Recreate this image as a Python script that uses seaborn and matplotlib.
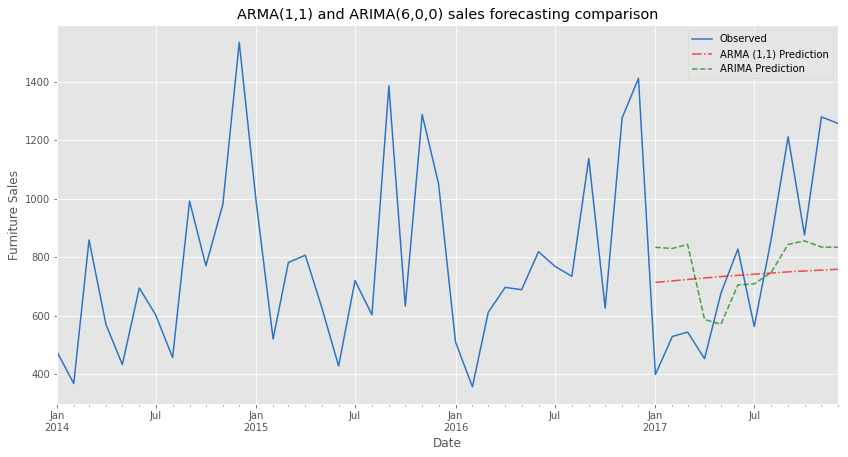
import pandas as pd
import numpy as np
import seaborn as sns
import matplotlib.pyplot as plt
import matplotlib.dates as mdates

# monthly furniture sales, Jan 2014 - Dec 2017
dates = pd.date_range('2014-01-01', '2017-12-01', freq='MS')
observed = [478, 368, 859, 570, 433, 695, 603, 457, 992, 771, 981, 1535,
            990, 521, 782, 807, 629, 428, 720, 603, 1386, 633, 1288, 1051,
            510, 357, 612, 697, 689, 819, 769, 735, 1138, 626, 1276, 1412,
            399, 529, 544, 453, 677, 828, 563, 862, 1212, 876, 1280, 1258]

# forecasts for 2017
pred_dates = pd.date_range('2017-01-01', '2017-12-01', freq='MS')
arma_pred = [714, 719, 724, 729, 734, 738, 742, 746, 750, 753, 756, 759]
arima_pred = [834, 830, 844, 587, 571, 705, 709, 748, 844, 856, 835, 834]

plt.style.use('ggplot')
fig, ax = plt.subplots(figsize=(848 / 72, 457 / 72), dpi=72)
fig.subplots_adjust(left=0.067, right=0.988, top=0.945, bottom=0.116)

df_obs = pd.DataFrame({'Date': dates, 'Sales': observed})
df_pred = pd.DataFrame({'Date': pred_dates, 'ARMA': arma_pred, 'ARIMA': arima_pred})

sns.lineplot(data=df_obs, x='Date', y='Sales', ax=ax, color='#2a74c6',
             linewidth=1.5, label='Observed')
sns.lineplot(data=df_pred, x='Date', y='ARMA', ax=ax, color='r', alpha=0.7,
             linestyle='-.', linewidth=1.5, label='ARMA (1,1) Prediction')
sns.lineplot(data=df_pred, x='Date', y='ARIMA', ax=ax, color='g', alpha=0.7,
             linestyle='--', linewidth=1.5, label='ARIMA Prediction')

ax.set_xlim(dates[0], dates[-1])
ax.xaxis.set_major_locator(mdates.MonthLocator(bymonth=[1, 7]))
ax.xaxis.set_minor_locator(mdates.MonthLocator())


def fmt(x, pos=None):
    d = mdates.num2date(x)
    if d.month == 1:
        return 'Jan\n%d' % d.year
    return d.strftime('%b')


ax.xaxis.set_major_formatter(plt.FuncFormatter(fmt))
ax.xaxis.set_minor_formatter(plt.NullFormatter())
ax.tick_params(axis='x', which='minor', length=2, color='#555555')
ax.grid(which='minor', visible=False)

ax.set_title('ARMA(1,1) and ARIMA(6,0,0) sales forecasting comparison')
ax.set_xlabel('Date')
ax.set_ylabel('Furniture Sales')
ax.legend(loc='upper right')

fig.savefig('out.png')
